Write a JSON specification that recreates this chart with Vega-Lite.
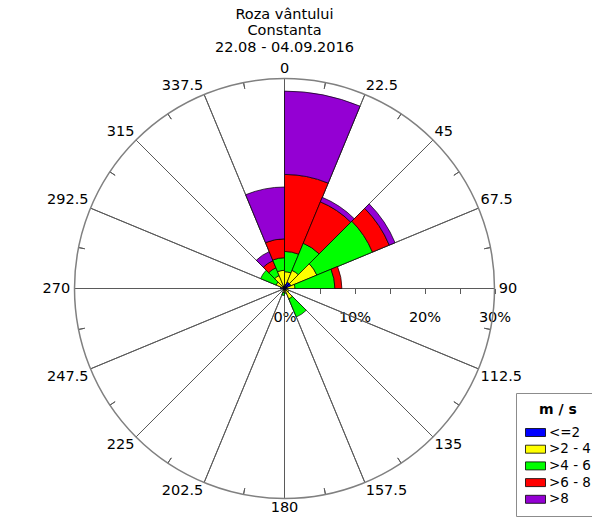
{
  "$schema": "https://vega.github.io/schema/vega-lite/v6.json",
  "width": 569,
  "height": 459,
  "autosize": {"type": "none"},
  "padding": {"left": 0, "top": 59, "right": 23, "bottom": 0},
  "background": "white",
  "title": {
    "text": ["Roza vântului", "Constanta", "22.08 - 04.09.2016"],
    "font": "DejaVu Sans",
    "fontSize": 14.5,
    "fontWeight": "normal",
    "color": "black",
    "anchor": "middle",
    "frame": "group",
    "lineHeight": 16.5,
    "offset": 4
  },
  "config": {"view": {"stroke": null}, "font": "DejaVu Sans"},
  "datasets": {
    "dirs": [
      {"dir": 0, "end": 22.5, "mid": 11.25, "label": "0"},
      {"dir": 22.5, "end": 45, "mid": 33.75, "label": "22.5"},
      {"dir": 45, "end": 67.5, "mid": 56.25, "label": "45"},
      {"dir": 67.5, "end": 90, "mid": 78.75, "label": "67.5"},
      {"dir": 90, "end": 112.5, "mid": 101.25, "label": "90"},
      {"dir": 112.5, "end": 135, "mid": 123.75, "label": "112.5"},
      {"dir": 135, "end": 157.5, "mid": 146.25, "label": "135"},
      {"dir": 157.5, "end": 180, "mid": 168.75, "label": "157.5"},
      {"dir": 180, "end": 202.5, "mid": 191.25, "label": "180"},
      {"dir": 202.5, "end": 225, "mid": 213.75, "label": "202.5"},
      {"dir": 225, "end": 247.5, "mid": 236.25, "label": "225"},
      {"dir": 247.5, "end": 270, "mid": 258.75, "label": "247.5"},
      {"dir": 270, "end": 292.5, "mid": 281.25, "label": "270"},
      {"dir": 292.5, "end": 315, "mid": 303.75, "label": "292.5"},
      {"dir": 315, "end": 337.5, "mid": 326.25, "label": "315"},
      {"dir": 337.5, "end": 360, "mid": 348.75, "label": "337.5"}
    ],
    "wind": [
      {"dir": 0, "speed": "<=2", "pct": 0.6},
      {"dir": 0, "speed": ">2 - 4", "pct": 1.8},
      {"dir": 0, "speed": ">4 - 6", "pct": 2.9},
      {"dir": 0, "speed": ">6 - 8", "pct": 11.0},
      {"dir": 0, "speed": ">8", "pct": 11.9},
      {"dir": 22.5, "speed": "<=2", "pct": 1.0},
      {"dir": 22.5, "speed": ">2 - 4", "pct": 1.8},
      {"dir": 22.5, "speed": ">4 - 6", "pct": 4.2},
      {"dir": 22.5, "speed": ">6 - 8", "pct": 6.4},
      {"dir": 22.5, "speed": ">8", "pct": 0.7},
      {"dir": 45, "speed": "<=2", "pct": 1.0},
      {"dir": 45, "speed": ">2 - 4", "pct": 4.0},
      {"dir": 45, "speed": ">4 - 6", "pct": 8.6},
      {"dir": 45, "speed": ">6 - 8", "pct": 2.6},
      {"dir": 45, "speed": ">8", "pct": 0.9},
      {"dir": 67.5, "speed": "<=2", "pct": 0.4},
      {"dir": 67.5, "speed": ">2 - 4", "pct": 1.1},
      {"dir": 67.5, "speed": ">4 - 6", "pct": 5.7},
      {"dir": 67.5, "speed": ">6 - 8", "pct": 1.0},
      {"dir": 90, "speed": "<=2", "pct": 0.3},
      {"dir": 112.5, "speed": "<=2", "pct": 0.2},
      {"dir": 112.5, "speed": ">2 - 4", "pct": 0.5},
      {"dir": 135, "speed": "<=2", "pct": 0.3},
      {"dir": 135, "speed": ">2 - 4", "pct": 1.3},
      {"dir": 135, "speed": ">4 - 6", "pct": 2.8},
      {"dir": 157.5, "speed": "<=2", "pct": 0.2},
      {"dir": 180, "speed": "<=2", "pct": 0.3},
      {"dir": 180, "speed": ">2 - 4", "pct": 0.3},
      {"dir": 180, "speed": ">4 - 6", "pct": 0.4},
      {"dir": 202.5, "speed": "<=2", "pct": 0.2},
      {"dir": 247.5, "speed": "<=2", "pct": 0.2},
      {"dir": 270, "speed": "<=2", "pct": 0.6},
      {"dir": 292.5, "speed": "<=2", "pct": 0.3},
      {"dir": 292.5, "speed": ">2 - 4", "pct": 1.0},
      {"dir": 292.5, "speed": ">4 - 6", "pct": 2.4},
      {"dir": 315, "speed": "<=2", "pct": 0.3},
      {"dir": 315, "speed": ">2 - 4", "pct": 1.7},
      {"dir": 315, "speed": ">4 - 6", "pct": 1.2},
      {"dir": 315, "speed": ">6 - 8", "pct": 1.1},
      {"dir": 315, "speed": ">8", "pct": 1.4},
      {"dir": 337.5, "speed": "<=2", "pct": 0.4},
      {"dir": 337.5, "speed": ">2 - 4", "pct": 2.2},
      {"dir": 337.5, "speed": ">4 - 6", "pct": 1.8},
      {"dir": 337.5, "speed": ">6 - 8", "pct": 2.7},
      {"dir": 337.5, "speed": ">8", "pct": 7.4}
    ]
  },
  "layer": [
    {
      "data": {"name": "dirs"},
      "mark": {"type": "arc", "filled": false, "stroke": "#5a5a5a", "strokeWidth": 1},
      "encoding": {
        "theta": {"field": "dir", "type": "quantitative", "scale": {"type": "linear", "domain": [0, 360], "range": [0, 6.283185307179586], "zero": false, "nice": false}},
        "theta2": {"field": "dir"},
        "radius": {"datum": 30, "type": "quantitative", "scale": {"type": "linear", "domain": [0, 30], "range": [0, 210], "zero": true, "nice": false}},
        "radius2": {"datum": 0}
      }
    },
    {
      "data": {"name": "dirs"},
      "mark": {"type": "arc", "filled": false, "stroke": "#5a5a5a", "strokeWidth": 1},
      "encoding": {
        "theta": {"field": "mid", "type": "quantitative", "scale": {"type": "linear", "domain": [0, 360], "range": [0, 6.283185307179586], "zero": false, "nice": false}},
        "theta2": {"field": "mid"},
        "radius": {"datum": 30, "type": "quantitative", "scale": {"type": "linear", "domain": [0, 30], "range": [0, 210], "zero": true, "nice": false}},
        "radius2": {"datum": 29.1}
      }
    },
    {
      "data": {"values": [{}]},
      "mark": {"type": "arc", "filled": false, "stroke": "#808080", "strokeWidth": 1.5},
      "encoding": {
        "theta": {"datum": 0, "type": "quantitative", "scale": {"type": "linear", "domain": [0, 360], "range": [0, 6.283185307179586], "zero": false, "nice": false}},
        "theta2": {"datum": 360},
        "radius": {"datum": 30, "type": "quantitative", "scale": {"type": "linear", "domain": [0, 30], "range": [0, 210], "zero": true, "nice": false}}
      }
    },
    {
      "data": {"name": "wind"},
      "transform": [
        {"lookup": "dir", "from": {"data": {"name": "dirs"}, "key": "dir", "fields": ["end"]}},
        {"stack": "pct", "groupby": ["dir"], "sort": [{"field": "speed", "order": "ascending"}], "as": ["r0", "r1"]}
      ],
      "mark": {"type": "arc", "stroke": "black", "strokeWidth": 0.7},
      "encoding": {
        "theta": {"field": "dir", "type": "quantitative", "scale": {"type": "linear", "domain": [0, 360], "range": [0, 6.283185307179586], "zero": false, "nice": false}},
        "theta2": {"field": "end"},
        "radius": {"field": "r1", "type": "quantitative", "scale": {"type": "linear", "domain": [0, 30], "range": [0, 210], "zero": true, "nice": false}},
        "radius2": {"field": "r0"},
        "color": {
          "field": "speed",
          "type": "nominal",
          "scale": {"domain": ["<=2", ">2 - 4", ">4 - 6", ">6 - 8", ">8"], "range": ["#0000ff", "#ffff00", "#00ff00", "#ff0000", "#9400d3"]},
          "legend": {
            "orient": "none",
            "legendX": 516,
            "legendY": 334,
            "title": "m / s",
            "titleFont": "DejaVu Sans",
            "titleFontSize": 14,
            "titleFontWeight": "bold",
            "titleColor": "black",
            "titleAnchor": "middle",
            "titleAlign": "center",
            "titlePadding": 7,
            "padding": 10,
            "strokeColor": "#8c8c8c",
            "fillColor": "white",
            "symbolType": "M-1.25,-0.5H1.25V0.5H-1.25Z",
            "symbolSize": 256,
            "symbolStrokeColor": "black",
            "symbolStrokeWidth": 0.8,
            "symbolOpacity": 1,
            "symbolOffset": 1,
            "labelOffset": 5,
            "labelFont": "DejaVu Sans",
            "labelFontSize": 13.5,
            "labelColor": "black",
            "rowPadding": 1.7
          }
        }
      }
    },
    {
      "data": {"name": "dirs"},
      "transform": [{"filter": "datum.dir == 0"}],
      "mark": {"type": "text", "align": "center", "baseline": "bottom", "font": "DejaVu Sans", "fontSize": 14.5, "color": "black"},
      "encoding": {
        "theta": {"field": "dir", "type": "quantitative", "scale": {"type": "linear", "domain": [0, 360], "range": [0, 6.283185307179586], "zero": false, "nice": false}},
        "radius": {"datum": 30.3, "type": "quantitative", "scale": {"type": "linear", "domain": [0, 30], "range": [0, 210], "zero": true, "nice": false}},
        "text": {"field": "label"}
      }
    },
    {
      "data": {"name": "dirs"},
      "transform": [{"filter": "datum.dir > 0 && datum.dir < 90"}],
      "mark": {"type": "text", "align": "left", "baseline": "bottom", "font": "DejaVu Sans", "fontSize": 14.5, "color": "black"},
      "encoding": {
        "theta": {"field": "dir", "type": "quantitative", "scale": {"type": "linear", "domain": [0, 360], "range": [0, 6.283185307179586], "zero": false, "nice": false}},
        "radius": {"datum": 30.3, "type": "quantitative", "scale": {"type": "linear", "domain": [0, 30], "range": [0, 210], "zero": true, "nice": false}},
        "text": {"field": "label"}
      }
    },
    {
      "data": {"name": "dirs"},
      "transform": [{"filter": "datum.dir == 90"}],
      "mark": {"type": "text", "align": "left", "baseline": "middle", "font": "DejaVu Sans", "fontSize": 14.5, "color": "black"},
      "encoding": {
        "theta": {"field": "dir", "type": "quantitative", "scale": {"type": "linear", "domain": [0, 360], "range": [0, 6.283185307179586], "zero": false, "nice": false}},
        "radius": {"datum": 30.6, "type": "quantitative", "scale": {"type": "linear", "domain": [0, 30], "range": [0, 210], "zero": true, "nice": false}},
        "text": {"field": "label"}
      }
    },
    {
      "data": {"name": "dirs"},
      "transform": [{"filter": "datum.dir > 90 && datum.dir < 180"}],
      "mark": {"type": "text", "align": "left", "baseline": "top", "font": "DejaVu Sans", "fontSize": 14.5, "color": "black"},
      "encoding": {
        "theta": {"field": "dir", "type": "quantitative", "scale": {"type": "linear", "domain": [0, 360], "range": [0, 6.283185307179586], "zero": false, "nice": false}},
        "radius": {"datum": 30.3, "type": "quantitative", "scale": {"type": "linear", "domain": [0, 30], "range": [0, 210], "zero": true, "nice": false}},
        "text": {"field": "label"}
      }
    },
    {
      "data": {"name": "dirs"},
      "transform": [{"filter": "datum.dir == 180"}],
      "mark": {"type": "text", "align": "center", "baseline": "top", "font": "DejaVu Sans", "fontSize": 14.5, "color": "black"},
      "encoding": {
        "theta": {"field": "dir", "type": "quantitative", "scale": {"type": "linear", "domain": [0, 360], "range": [0, 6.283185307179586], "zero": false, "nice": false}},
        "radius": {"datum": 30.3, "type": "quantitative", "scale": {"type": "linear", "domain": [0, 30], "range": [0, 210], "zero": true, "nice": false}},
        "text": {"field": "label"}
      }
    },
    {
      "data": {"name": "dirs"},
      "transform": [{"filter": "datum.dir > 180 && datum.dir < 270"}],
      "mark": {"type": "text", "align": "right", "baseline": "top", "font": "DejaVu Sans", "fontSize": 14.5, "color": "black"},
      "encoding": {
        "theta": {"field": "dir", "type": "quantitative", "scale": {"type": "linear", "domain": [0, 360], "range": [0, 6.283185307179586], "zero": false, "nice": false}},
        "radius": {"datum": 30.3, "type": "quantitative", "scale": {"type": "linear", "domain": [0, 30], "range": [0, 210], "zero": true, "nice": false}},
        "text": {"field": "label"}
      }
    },
    {
      "data": {"name": "dirs"},
      "transform": [{"filter": "datum.dir == 270"}],
      "mark": {"type": "text", "align": "right", "baseline": "middle", "font": "DejaVu Sans", "fontSize": 14.5, "color": "black"},
      "encoding": {
        "theta": {"field": "dir", "type": "quantitative", "scale": {"type": "linear", "domain": [0, 360], "range": [0, 6.283185307179586], "zero": false, "nice": false}},
        "radius": {"datum": 30.6, "type": "quantitative", "scale": {"type": "linear", "domain": [0, 30], "range": [0, 210], "zero": true, "nice": false}},
        "text": {"field": "label"}
      }
    },
    {
      "data": {"name": "dirs"},
      "transform": [{"filter": "datum.dir > 270"}],
      "mark": {"type": "text", "align": "right", "baseline": "bottom", "font": "DejaVu Sans", "fontSize": 14.5, "color": "black"},
      "encoding": {
        "theta": {"field": "dir", "type": "quantitative", "scale": {"type": "linear", "domain": [0, 360], "range": [0, 6.283185307179586], "zero": false, "nice": false}},
        "radius": {"datum": 30.3, "type": "quantitative", "scale": {"type": "linear", "domain": [0, 30], "range": [0, 210], "zero": true, "nice": false}},
        "text": {"field": "label"}
      }
    },
    {
      "data": {"values": [{}]},
      "mark": {"type": "point", "opacity": 0},
      "encoding": {
        "x": {
          "datum": 0,
          "type": "quantitative",
          "scale": {"domain": [-40.642857, 40.642857], "nice": false, "zero": false},
          "axis": {
            "orient": "bottom",
            "offset": -229.5,
            "values": [0, 5, 10, 15, 20, 25, 30],
            "labelExpr": "datum.value % 10 === 0 ? datum.value + '%' : ''",
            "domain": false,
            "grid": false,
            "ticks": true,
            "tickSize": 5,
            "tickColor": "#5a5a5a",
            "tickWidth": 1,
            "labelFont": "DejaVu Sans",
            "labelFontSize": 14.5,
            "labelColor": "black",
            "labelPadding": 17,
            "labelFlush": false,
            "labelOverlap": false,
            "title": null
          }
        }
      }
    }
  ]
}
